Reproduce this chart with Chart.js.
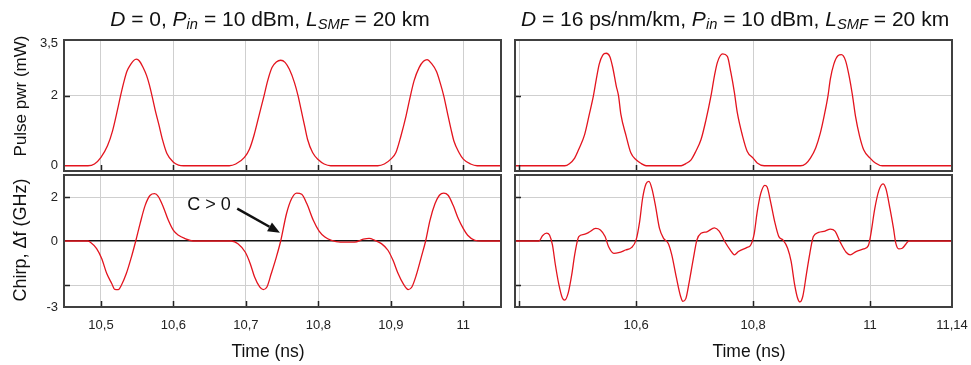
<!DOCTYPE html>
<html>
<head>
<meta charset="utf-8">
<script src="https://cdn.jsdelivr.net/npm/chart.js@4.4.1/dist/chart.umd.min.js"></script>
<style>
  html, body { margin: 0; padding: 0; background: #fff; }
  #wrap { position: relative; width: 971px; height: 365px; overflow: hidden;
          font-family: "Liberation Sans", Arial, sans-serif; color: #111; }
  #wrap canvas { position: absolute; left: 0; top: 0; }
  .lbl { position: absolute; white-space: nowrap; transform: translate(-50%, -50%); font-size: 17px; line-height: 1; }
  .lbl.rot { transform: translate(-50%, -50%) rotate(-90deg); }
  .lbl sub { font-size: 0.7em; vertical-align: -0.25em; line-height: 0; }
  .ttl { font-size: 21px; }
</style>
</head>
<body>
<div id="wrap">
  <canvas id="pwr-l" width="971" height="365"></canvas>
  <canvas id="chirp-l" width="971" height="365"></canvas>
  <canvas id="pwr-r" width="971" height="365"></canvas>
  <canvas id="chirp-r" width="971" height="365"></canvas>

  <div class="lbl ttl" style="left:270px; top:18px"><i>D</i> = 0, <i>P<sub>in</sub></i> = 10 dBm, <i>L<sub>SMF</sub></i> = 20 km</div>
  <div class="lbl ttl" style="left:735px; top:18px"><i>D</i> = 16 ps/nm/km, <i>P<sub>in</sub></i> = 10 dBm, <i>L<sub>SMF</sub></i> = 20 km</div>
  <div class="lbl rot" style="left:20px; top:96px">Pulse pwr (mW)</div>
  <div class="lbl rot" style="left:20px; top:240px; font-size:18px">Chirp, Δf (GHz)</div>
  <div class="lbl" style="left:268px; top:352px; font-size:17.5px">Time (ns)</div>
  <div class="lbl" style="left:749px; top:352px; font-size:17.5px">Time (ns)</div>
</div>

<script>
// Pulse power (mW) and chirp (GHz) versus time (ns), [t, value] pairs.
var pwrLeft = [
  [10.45, 0], [10.482, 0], [10.491, 0.05], [10.5, 0.24], [10.509, 0.57], [10.516, 1.0],
  [10.523, 1.62], [10.527, 2.0], [10.532, 2.43], [10.536, 2.71], [10.541, 2.9], [10.545, 3.01],
  [10.549, 3.05], [10.553, 3.0], [10.558, 2.82], [10.563, 2.58], [10.567, 2.3], [10.571, 1.95],
  [10.575, 1.58], [10.58, 1.17], [10.585, 0.74], [10.591, 0.35], [10.6, 0.1], [10.607, 0.02],
  [10.614, 0],
  [10.677, 0], [10.686, 0.05], [10.698, 0.24], [10.705, 0.48], [10.711, 0.86], [10.718, 1.43],
  [10.725, 2.0], [10.73, 2.43], [10.736, 2.81], [10.742, 2.97], [10.748, 3.02], [10.754, 2.96],
  [10.76, 2.76], [10.767, 2.38], [10.772, 2.0], [10.776, 1.62], [10.781, 1.14], [10.785, 0.76],
  [10.792, 0.38], [10.8, 0.17], [10.808, 0.05], [10.817, 0],
  [10.882, 0], [10.891, 0.05], [10.9, 0.19], [10.907, 0.38], [10.914, 0.86], [10.921, 1.43],
  [10.927, 2.0], [10.932, 2.43], [10.939, 2.81], [10.945, 2.99], [10.95, 3.04], [10.956, 2.93],
  [10.963, 2.7], [10.968, 2.38], [10.973, 2.0], [10.978, 1.52], [10.983, 1.05], [10.987, 0.71],
  [10.994, 0.38], [11.0, 0.19], [11.01, 0.05], [11.019, 0], [11.052, 0]
];

var chirpLeft = [
  [10.45, 0], [10.482, 0], [10.485, -0.05], [10.494, -0.35], [10.501, -0.8], [10.508, -1.48],
  [10.515, -1.94], [10.519, -2.2], [10.524, -2.21], [10.528, -2.02], [10.535, -1.48], [10.542, -0.73],
  [10.548, 0], [10.554, 0.79], [10.561, 1.62], [10.568, 2.08], [10.574, 2.15], [10.579, 2.03],
  [10.586, 1.55], [10.593, 0.94], [10.6, 0.48], [10.607, 0.26], [10.616, 0.11], [10.627, 0],
  [10.68, 0], [10.689, -0.12], [10.699, -0.5], [10.706, -1.03], [10.712, -1.64], [10.719, -2.09],
  [10.724, -2.21], [10.729, -2.09], [10.735, -1.48], [10.742, -0.73], [10.748, 0], [10.756, 1.24],
  [10.763, 1.92], [10.77, 2.18], [10.777, 2.12], [10.784, 1.7], [10.793, 0.94], [10.801, 0.45],
  [10.809, 0.18], [10.818, 0.03], [10.83, -0.05], [10.85, -0.05], [10.862, 0.08], [10.87, 0.12],
  [10.878, 0.03], [10.887, -0.12], [10.896, -0.42], [10.903, -0.88], [10.91, -1.48], [10.917, -1.94],
  [10.924, -2.21], [10.929, -2.09], [10.935, -1.56], [10.942, -0.73], [10.948, 0], [10.954, 0.94],
  [10.961, 1.7], [10.967, 2.08], [10.973, 2.18], [10.979, 2.08], [10.986, 1.62], [10.993, 1.02],
  [11.0, 0.56], [11.006, 0.26], [11.016, 0.03], [11.025, 0], [11.052, 0]
];

var pwrRight = [
  [10.393, 0], [10.478, 0], [10.486, 0.06], [10.495, 0.22], [10.503, 0.51], [10.512, 0.89],
  [10.52, 1.47], [10.527, 2.0], [10.532, 2.48], [10.537, 2.91], [10.543, 3.17], [10.549, 3.22],
  [10.555, 3.13], [10.56, 2.82], [10.566, 2.29], [10.57, 2.0], [10.574, 1.47], [10.583, 0.85],
  [10.591, 0.37], [10.6, 0.17], [10.609, 0.06], [10.617, 0],
  [10.677, 0], [10.685, 0.06], [10.694, 0.17], [10.702, 0.41], [10.711, 0.75], [10.719, 1.28],
  [10.728, 2.0], [10.734, 2.58], [10.739, 2.96], [10.748, 3.2], [10.756, 3.13], [10.762, 2.67],
  [10.768, 2.1], [10.773, 1.52], [10.782, 0.85], [10.79, 0.41], [10.8, 0.22], [10.807, 0.08],
  [10.819, 0],
  [10.881, 0], [10.89, 0.06], [10.898, 0.22], [10.907, 0.51], [10.915, 0.94], [10.922, 1.47],
  [10.928, 2.0], [10.932, 2.48], [10.938, 2.91], [10.945, 3.15], [10.951, 3.18], [10.958, 3.01],
  [10.964, 2.58], [10.97, 2.0], [10.975, 1.42], [10.982, 0.85], [10.989, 0.46], [11.0, 0.22],
  [11.009, 0.08], [11.021, 0], [11.14, 0]
];

var chirpRight = [
  [10.393, 0], [10.434, 0], [10.44, 0.24], [10.447, 0.36], [10.452, 0.27], [10.457, -0.18],
  [10.462, -1.08], [10.468, -1.98], [10.474, -2.59], [10.478, -2.69], [10.484, -2.36], [10.49, -1.53],
  [10.495, -0.63], [10.502, 0.2], [10.511, 0.3], [10.519, 0.39], [10.531, 0.57], [10.539, 0.5],
  [10.547, 0.2], [10.553, -0.26], [10.562, -0.56], [10.57, -0.53], [10.582, -0.41], [10.592, -0.3],
  [10.6, 0.05], [10.606, 0.87], [10.611, 1.92], [10.617, 2.6], [10.622, 2.71], [10.627, 2.38],
  [10.633, 1.62], [10.64, 0.57], [10.647, 0.12], [10.655, -0.11], [10.661, -0.63], [10.669, -1.68],
  [10.676, -2.51], [10.68, -2.74], [10.685, -2.62], [10.691, -1.83], [10.698, -0.78], [10.704, 0.05],
  [10.711, 0.35], [10.721, 0.42], [10.734, 0.6], [10.742, 0.45], [10.751, 0], [10.761, -0.41],
  [10.768, -0.63], [10.775, -0.48], [10.789, -0.3], [10.796, -0.18], [10.802, 0.35], [10.807, 1.32],
  [10.813, 2.15], [10.82, 2.53], [10.824, 2.45], [10.83, 1.77], [10.837, 0.87], [10.844, 0.2],
  [10.851, 0.05], [10.859, -0.33], [10.865, -0.93], [10.871, -1.98], [10.876, -2.59], [10.88, -2.77],
  [10.885, -2.51], [10.891, -1.53], [10.897, -0.56], [10.903, 0.2], [10.912, 0.39], [10.923, 0.45],
  [10.932, 0.54], [10.94, 0.45], [10.95, -0.11], [10.959, -0.51], [10.966, -0.63], [10.976, -0.48],
  [10.989, -0.36], [10.997, -0.21], [11.001, 0.27], [11.008, 1.47], [11.015, 2.3], [11.022, 2.6],
  [11.027, 2.38], [11.034, 1.47], [11.04, 0.57], [11.044, -0.11], [11.049, -0.36], [11.055, -0.33],
  [11.061, -0.15], [11.066, 0], [11.14, 0]
];

// Axis ticks
var xTicksLeft = [10.5, 10.6, 10.7, 10.8, 10.9, 11];
var xTicksRight = [10.4, 10.6, 10.8, 11, 11.14];
var yTicksPwr = [0, 2, 3.5];
var yTicksChirp = [-3, -2, 0, 2];

// "C > 0" note: text position, arrow tail and arrow tip in data units
var noteText = 'C > 0';
var noteAt = [10.649, 1.65];
var noteTail = [10.688, 1.47];
var noteTip = [10.747, 0.38];

(function () {
  var W = 971, H = 365;
  var RED = '#e3141e';
  var GRID = '#cfcfcf';
  var FONT = '"Liberation Sans", Arial, sans-serif';
  var NONE = 'rgba(0,0,0,0)';

  function comma(v) { return String(v).replace('.', ','); }
  function points(pairs) { return pairs.map(function (p) { return { x: p[0], y: p[1] }; }); }
  function has(list, v) { return list.indexOf(v) >= 0; }

  // box round the plot area plus short inward tick marks
  function framePlugin(cfg) {
    return {
      id: 'frame',
      afterDraw: function (chart) {
        var a = chart.chartArea, ctx = chart.ctx;
        var sx = chart.scales.x, sy = chart.scales.y;
        ctx.save();
        ctx.strokeStyle = '#222';
        ctx.lineWidth = 1.5;
        ctx.beginPath();
        cfg.xMarks.forEach(function (v) {
          var px = Math.round(sx.getPixelForValue(v)) + 0.5;
          ctx.moveTo(px, a.bottom);
          ctx.lineTo(px, a.bottom - 6);
        });
        cfg.yMarks.forEach(function (v) {
          var py = Math.round(sy.getPixelForValue(v)) + 0.5;
          ctx.moveTo(a.left, py);
          ctx.lineTo(a.left + 6, py);
        });
        ctx.stroke();
        ctx.strokeStyle = '#404040';
        ctx.lineWidth = 2;
        ctx.strokeRect(a.left, a.top, a.right - a.left, a.bottom - a.top);
        ctx.restore();
      }
    };
  }

  var notePlugin = {
    id: 'note',
    afterDraw: function (chart) {
      var sx = chart.scales.x, sy = chart.scales.y, ctx = chart.ctx;
      var x0 = sx.getPixelForValue(noteTail[0]), y0 = sy.getPixelForValue(noteTail[1]);
      var x1 = sx.getPixelForValue(noteTip[0]), y1 = sy.getPixelForValue(noteTip[1]);
      var ang = Math.atan2(y1 - y0, x1 - x0), hl = 12, hw = 5;
      var bx = x1 - hl * Math.cos(ang), by = y1 - hl * Math.sin(ang);
      ctx.save();
      ctx.fillStyle = '#111';
      ctx.font = '18px ' + FONT;
      ctx.textAlign = 'center';
      ctx.textBaseline = 'middle';
      ctx.fillText(noteText, sx.getPixelForValue(noteAt[0]), sy.getPixelForValue(noteAt[1]));
      ctx.strokeStyle = '#111';
      ctx.lineWidth = 2.5;
      ctx.beginPath();
      ctx.moveTo(x0, y0);
      ctx.lineTo(bx, by);
      ctx.stroke();
      ctx.beginPath();
      ctx.moveTo(x1, y1);
      ctx.lineTo(bx + hw * Math.sin(ang), by - hw * Math.cos(ang));
      ctx.lineTo(bx - hw * Math.sin(ang), by + hw * Math.cos(ang));
      ctx.closePath();
      ctx.fill();
      ctx.restore();
    }
  };

  function panel(id, cfg) {
    var ar = cfg.area;
    var plugins = [framePlugin(cfg)];
    if (cfg.note) plugins.push(notePlugin);
    return new Chart(document.getElementById(id), {
      type: 'line',
      data: {
        datasets: [{
          data: points(cfg.data),
          borderColor: RED,
          borderWidth: 1.3,
          pointRadius: 0,
          cubicInterpolationMode: 'monotone'
        }]
      },
      options: {
        responsive: false,
        animation: false,
        events: [],
        layout: { padding: { left: ar.left - cfg.yW, top: ar.top, right: W - ar.right, bottom: H - ar.bottom - cfg.xH } },
        plugins: { legend: { display: false }, tooltip: { enabled: false } },
        scales: {
          x: {
            type: 'linear', min: cfg.xMin, max: cfg.xMax,
            afterBuildTicks: function (s) { s.ticks = cfg.xTicks.map(function (v) { return { value: v }; }); },
            // fixed height, and no extra room for the edge labels
            afterFit: function (s) { s.height = cfg.xH; s.paddingLeft = 0; s.paddingRight = 0; },
            border: { display: false },
            grid: {
              drawTicks: false,
              color: function (c) { return has(cfg.xGrid, c.tick.value) ? GRID : NONE; }
            },
            ticks: {
              display: cfg.xLabels, autoSkip: false, maxRotation: 0, padding: 11,
              color: '#222', font: { family: FONT, size: 13 },
              callback: function (v) { return has(cfg.xHidden, v) ? '' : comma(v); }
            }
          },
          y: {
            min: cfg.yMin, max: cfg.yMax,
            afterBuildTicks: function (s) { s.ticks = cfg.yTicks.map(function (v) { return { value: v }; }); },
            afterFit: function (s) { s.width = cfg.yW; s.paddingTop = 0; s.paddingBottom = 0; },
            border: { display: false },
            grid: {
              drawTicks: false,
              color: function (c) {
                if (c.tick.value === 0 && cfg.zeroLine) return '#111';
                return has(cfg.yGrid, c.tick.value) ? GRID : NONE;
              },
              lineWidth: function (c) { return c.tick.value === 0 && cfg.zeroLine ? 1.5 : 1; }
            },
            ticks: {
              display: cfg.yLabels, autoSkip: false, padding: 6,
              color: '#222', font: { family: FONT, size: 13 },
              callback: function (v) { return has(cfg.yHidden, v) ? '' : comma(v); }
            }
          }
        }
      },
      plugins: plugins
    });
  }

  var left = { xMin: 10.449, xMax: 11.052, xTicks: xTicksLeft, xGrid: xTicksLeft, xMarks: xTicksLeft, xHidden: [] };
  var right = { xMin: 10.393, xMax: 11.14, xTicks: xTicksRight, xGrid: [10.4, 10.6, 10.8, 11], xMarks: [10.4, 10.6, 10.8, 11], xHidden: [10.4] };
  var pwr = { yMin: -0.15, yMax: 3.6, yTicks: yTicksPwr, yGrid: [2], yMarks: [2], yHidden: [], zeroLine: false, xLabels: false, xH: 0 };
  var chirp = { yMin: -3, yMax: 3, yTicks: yTicksChirp, yGrid: [2, -2], yMarks: [2, -2], yHidden: [-2], zeroLine: true, xLabels: true, xH: H - 307 };

  function merge() {
    var o = {};
    for (var i = 0; i < arguments.length; i++) for (var k in arguments[i]) o[k] = arguments[i][k];
    return o;
  }

  panel('pwr-l', merge(left, pwr, { data: pwrLeft, area: { left: 64, top: 40, right: 501, bottom: 171 }, yW: 64, yLabels: true }));
  panel('chirp-l', merge(left, chirp, { data: chirpLeft, area: { left: 64, top: 175, right: 501, bottom: 307 }, yW: 64, yLabels: true, note: true }));
  panel('pwr-r', merge(right, pwr, { data: pwrRight, area: { left: 515, top: 40, right: 952, bottom: 171 }, yW: 0, yLabels: false }));
  panel('chirp-r', merge(right, chirp, { data: chirpRight, area: { left: 515, top: 175, right: 952, bottom: 307 }, yW: 0, yLabels: false }));
})();
</script>
</body>
</html>
